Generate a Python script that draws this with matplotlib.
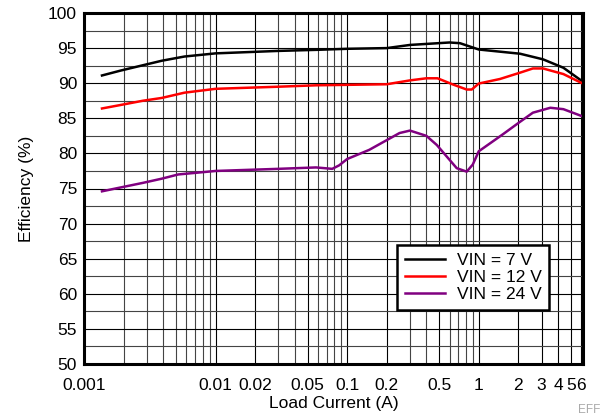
import matplotlib.pyplot as plt
from matplotlib.ticker import FixedLocator, LogLocator, NullFormatter, MultipleLocator

plt.rcParams['font.family'] = ['Liberation Sans', 'DejaVu Sans']

# load current (A) and efficiency (%)
i_7v = [0.00137, 0.0019, 0.0039, 0.0058, 0.01, 0.03, 0.058, 0.1, 0.2, 0.3, 0.6, 0.72, 1.0, 2.06, 3.08, 4.4, 6.1]
eff_7v = [91.1, 91.8, 93.2, 93.8, 94.25, 94.6, 94.75, 94.9, 95.0, 95.45, 95.8, 95.7, 94.8, 94.2, 93.4, 92.2, 90.3]

i_12v = [0.00137, 0.0019, 0.0028, 0.0039, 0.0058, 0.01, 0.03, 0.058, 0.2, 0.3, 0.40, 0.486, 0.63, 0.81, 0.885, 1.0, 1.45, 2.06, 2.58, 3.08, 4.4, 6.1]
eff_12v = [86.4, 86.9, 87.5, 87.9, 88.65, 89.2, 89.5, 89.7, 89.85, 90.4, 90.7, 90.7, 89.85, 89.1, 89.1, 89.95, 90.6, 91.5, 92.1, 92.1, 91.3, 90.0]

i_24v = [0.00137, 0.0019, 0.0028, 0.0039, 0.0052, 0.01, 0.03, 0.058, 0.077, 0.087, 0.1, 0.147, 0.25, 0.30, 0.40, 0.48, 0.68, 0.81, 0.90, 1.0, 1.52, 2.06, 2.58, 3.5, 4.4, 6.1]
eff_24v = [74.6, 75.15, 75.8, 76.4, 77.0, 77.5, 77.8, 78.0, 77.8, 78.3, 79.2, 80.5, 82.9, 83.25, 82.5, 81.2, 77.9, 77.4, 78.4, 80.3, 82.7, 84.5, 85.8, 86.5, 86.3, 85.3]

x_ticks = [0.001, 0.01, 0.02, 0.05, 0.1, 0.2, 0.5, 1, 2, 3, 4, 5, 6]
x_labels = ['0.001', '0.01', '0.02', '0.05', '0.1', '0.2', '0.5', '1', '2', '3', '4', '5', '6']

fig = plt.figure(figsize=(6.1, 4.18), dpi=100)
ax = fig.add_axes([84 / 610, 1 - 364 / 418, 499 / 610, 351 / 418])

ax.plot(i_7v, eff_7v, color='black', lw=1.8, label='VIN = 7 V')
ax.plot(i_12v, eff_12v, color='#ff0000', lw=1.8, label='VIN = 12 V')
ax.plot(i_24v, eff_24v, color='#800080', lw=1.8, label='VIN = 24 V')

ax.set_xscale('log')
ax.set_xlim(0.001, 6.2)
ax.set_ylim(50, 100)
ax.xaxis.set_major_locator(FixedLocator(x_ticks))
ax.set_xticklabels(x_labels)
ax.xaxis.set_minor_locator(LogLocator(base=10, subs=range(1, 10), numticks=20))
ax.xaxis.set_minor_formatter(NullFormatter())
ax.yaxis.set_major_locator(MultipleLocator(5))
ax.yaxis.set_minor_locator(MultipleLocator(2.5))

ax.grid(True, which='major', color='black', lw=0.8)
ax.grid(True, which='minor', color='#444444', lw=0.8)
ax.tick_params(which='both', length=0, labelsize=12.5)
ax.tick_params(axis='y', pad=5)
ax.tick_params(axis='x', pad=10)
for s in ax.spines.values():
    s.set_linewidth(2.2)

ax.set_xlabel('Load Current (A)', fontsize=12.5, labelpad=2)
ax.set_ylabel('Efficiency (%)', fontsize=12.5, labelpad=10)

leg = ax.legend(loc='lower left', bbox_to_anchor=(0.627, 0.154, 0.305, 0.239), mode='expand',
                borderaxespad=0, fontsize=12.5, frameon=True, fancybox=False, edgecolor='black',
                handlelength=2.3, borderpad=0.45, labelspacing=0.1, handletextpad=0.7)
leg.get_frame().set_linewidth(1.8)
leg.get_frame().set_alpha(1)

fig.text(0.985, 0.005, 'EFF', color='#aaaaaa', fontsize=8.5, ha='right', va='bottom')

fig.savefig('out.png', dpi=100)
